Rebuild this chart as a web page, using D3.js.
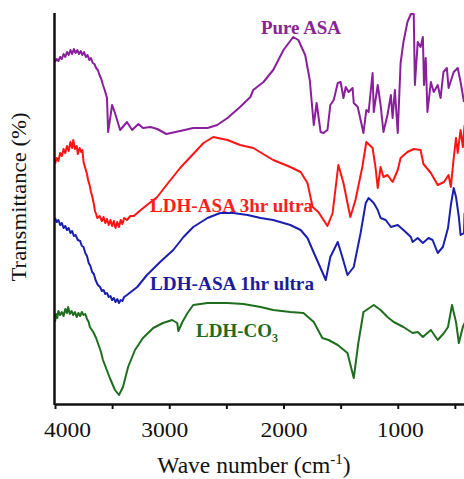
<!DOCTYPE html>
<html>
<head>
<meta charset="utf-8">
<script src="https://cdn.jsdelivr.net/npm/d3@7"></script>
<style>
  html, body { margin: 0; padding: 0; background: #fff; }
  svg { display: block; }
</style>
</head>
<body>
<div id="chart"></div>
<script>
// FTIR spectra: [wave number (cm-1), transmittance (a.u., stacked)]
const pureASA = [
  [4000, 342], [3985, 345], [3970, 343], [3955, 347], [3940, 345], [3925, 350], [3910, 347],
  [3895, 352], [3880, 349], [3865, 354], [3850, 350], [3835, 355], [3820, 351], [3805, 354],
  [3790, 350], [3775, 353], [3760, 349], [3745, 352], [3730, 347], [3715, 349], [3700, 344],
  [3685, 346], [3670, 341], [3655, 340], [3640, 336], [3625, 334], [3610, 329], [3595, 325],
  [3580, 319], [3565, 314], [3545, 306], [3535, 272], [3500, 299], [3475, 291], [3430, 274],
  [3370, 282], [3325, 274], [3270, 280], [3230, 276], [3165, 277], [3105, 275], [3025, 270],
  [2905, 273], [2790, 276], [2665, 276], [2580, 279], [2490, 286], [2380, 297], [2290, 307],
  [2265, 314], [2175, 322], [2090, 334], [2000, 354], [1915, 367], [1870, 364], [1810, 349],
  [1770, 324], [1735, 279], [1710, 301], [1675, 272], [1650, 271], [1615, 274], [1590, 299],
  [1560, 304], [1525, 321], [1500, 322], [1475, 306], [1455, 317], [1430, 312], [1395, 316],
  [1385, 301], [1350, 297], [1325, 284], [1300, 271], [1275, 294], [1255, 292], [1220, 331],
  [1210, 292], [1175, 319], [1150, 299], [1125, 272], [1090, 289], [1060, 309], [1045, 286],
  [1025, 314], [1000, 271], [975, 341], [950, 362], [915, 382], [885, 390], [860, 390],
  [850, 319], [825, 362], [800, 357], [780, 367], [770, 319], [755, 346], [740, 292],
  [710, 322], [685, 312], [650, 319], [625, 306], [600, 332], [570, 336], [555, 316],
  [510, 332], [475, 336], [450, 322], [420, 302]
];

const ldhAsa3hr = [
  [4000, 240], [3985, 246], [3970, 243], [3955, 251], [3940, 248], [3925, 255], [3910, 251],
  [3895, 258], [3880, 253], [3865, 262], [3850, 256], [3840, 264], [3825, 255], [3810, 258],
  [3800, 250], [3785, 256], [3770, 252], [3760, 254], [3750, 242], [3735, 236], [3720, 230],
  [3710, 224], [3695, 218], [3685, 212], [3675, 208], [3660, 200], [3650, 193], [3640, 190],
  [3630, 186], [3610, 188], [3590, 183], [3575, 187], [3560, 181], [3545, 185], [3530, 179],
  [3515, 184], [3500, 178], [3485, 183], [3470, 176], [3455, 182], [3440, 177], [3425, 184],
  [3410, 180], [3395, 186], [3370, 184], [3340, 188], [3310, 188], [3270, 192],
  [3195, 199], [3105, 207], [3010, 221], [2905, 236], [2815, 247], [2700, 261], [2615, 267],
  [2490, 264], [2380, 259], [2265, 256], [2090, 244], [1940, 237], [1850, 232], [1790, 221],
  [1745, 197], [1695, 192], [1615, 178], [1570, 191], [1520, 239], [1475, 221], [1415, 187],
  [1370, 204], [1310, 237], [1275, 262], [1220, 256], [1195, 237], [1175, 216], [1150, 237],
  [1125, 227], [1090, 229], [1045, 222], [1000, 234], [975, 246], [915, 252], [860, 255],
  [800, 254], [775, 240], [710, 231], [650, 219], [595, 222], [555, 229], [535, 217],
  [510, 246], [490, 266], [475, 251], [450, 274], [430, 257], [415, 279]
];

const ldhAsa1hr = [
  [4000, 186], [3985, 182], [3970, 184], [3955, 179], [3940, 181], [3925, 176], [3910, 178],
  [3895, 174], [3880, 176], [3865, 171], [3850, 173], [3835, 168], [3820, 169], [3800, 164],
  [3780, 163], [3765, 158], [3750, 157], [3735, 151], [3720, 148], [3705, 141], [3690, 138],
  [3675, 132], [3660, 130], [3645, 124], [3625, 119], [3605, 117], [3590, 113], [3575, 114],
  [3560, 110], [3545, 111], [3530, 107], [3515, 108], [3500, 104], [3485, 106], [3470, 102],
  [3455, 105], [3440, 101], [3425, 104], [3410, 103], [3395, 107], [3370, 109], [3280, 117],
  [3195, 129], [3080, 142], [2965, 154], [2875, 167], [2790, 177], [2665, 186], [2555, 191],
  [2440, 191], [2315, 189], [2200, 186], [2090, 184], [1940, 179], [1850, 174], [1790, 166],
  [1745, 154], [1695, 141], [1630, 124], [1590, 147], [1525, 162], [1485, 147], [1440, 129],
  [1385, 137], [1325, 171], [1280, 201], [1255, 206], [1210, 201], [1175, 194], [1150, 186],
  [1105, 184], [1060, 177], [1000, 179], [950, 174], [885, 167], [870, 162], [825, 166],
  [780, 161], [730, 166], [695, 164], [650, 151], [605, 157], [560, 176], [535, 199],
  [510, 216], [490, 207], [465, 187], [450, 169], [420, 171], [415, 191]
];

const ldhCO3 = [
  [4000, 82], [3990, 90], [3980, 86], [3970, 93], [3955, 89], [3940, 92], [3925, 88],
  [3910, 95], [3895, 91], [3885, 97], [3870, 90], [3855, 93], [3840, 89], [3825, 92],
  [3810, 87], [3795, 91], [3780, 88], [3765, 92], [3750, 89], [3735, 90], [3720, 85],
  [3705, 82], [3695, 77], [3665, 72], [3640, 66], [3625, 61], [3600, 53], [3580, 44], [3520, 26], [3475, 14],
  [3440, 9], [3405, 17], [3360, 37], [3300, 54], [3230, 66], [3140, 76], [3055, 81],
  [2975, 84], [2930, 81], [2920, 73], [2885, 82], [2840, 91], [2790, 99], [2665, 101],
  [2490, 101], [2350, 100], [2200, 97], [2090, 94], [1940, 92], [1825, 91], [1735, 82],
  [1660, 66], [1605, 64], [1525, 59], [1440, 51], [1385, 26], [1345, 61], [1300, 92],
  [1210, 99], [1150, 94], [1090, 87], [1035, 82], [950, 77], [870, 71], [825, 72],
  [780, 67], [710, 74], [650, 64], [595, 71], [560, 77], [525, 99], [490, 82],
  [465, 61], [430, 77], [415, 81]
];

const seriesNames = ["Pure ASA", "LDH-ASA 3hr ultra", "LDH-ASA 1hr ultra", "LDH-CO3"];
const seriesColors = ["#8a1f9c", "#ff1414", "#1a1fb0", "#1f6e1f"];
const labelColors = ["#8a2396", "#ff1e1e", "#1c1c9c", "#1e6a1e"];
const tickValues = [4000, 3500, 3000, 2500, 2000, 1500, 1000, 500];

const width = 464, height = 479;
const margin = { top: 13, left: 55, bottom: 75 };
const serif = "'Liberation Serif', 'Times New Roman', serif";

const svg = d3.select("#chart").append("svg")
  .attr("width", width)
  .attr("height", height);

const x = d3.scaleLinear().domain([4000, 420]).range([margin.left, width]);
const y = d3.scaleLinear().domain([0, 391]).range([height - margin.bottom, margin.top]);
const y0 = y(0);

svg.append("clipPath").attr("id", "plot-clip")
  .append("rect")
  .attr("x", margin.left).attr("y", 0)
  .attr("width", width - margin.left).attr("height", y0);

const line = d3.line().x(d => x(d[0])).y(d => y(d[1]));

const plot = svg.append("g").attr("clip-path", "url(#plot-clip)");
[pureASA, ldhAsa3hr, ldhAsa1hr, ldhCO3].forEach((data, i) => {
  plot.append("path")
    .datum(data)
    .attr("d", line)
    .attr("fill", "none")
    .attr("stroke", seriesColors[i])
    .attr("stroke-width", 2)
    .attr("stroke-linejoin", "round");
});

// x axis
const xAxis = svg.append("g")
  .attr("transform", `translate(0,${y0})`)
  .call(d3.axisBottom(x).tickValues(tickValues).tickSize(5).tickSizeOuter(0)
    .tickFormat(d => (d % 1000 === 0 ? d : "")));
xAxis.select(".domain").attr("stroke", "#111").attr("stroke-width", 2.5);
xAxis.selectAll(".tick line").attr("stroke", "#111").attr("stroke-width", 2);
xAxis.selectAll(".tick text")
  .attr("y", 33)
  .attr("dy", 0)
  .attr("fill", "#111")
  .style("font-family", serif)
  .style("font-size", "21px")
  .attr("textLength", 47)
  .attr("lengthAdjust", "spacingAndGlyphs")
  .attr("dx", d => (d === 4000 ? 12 : d === 3000 ? -5 : d === 1000 ? 2 : 0));

// y axis line only
svg.append("line")
  .attr("x1", margin.left - 0.5).attr("x2", margin.left - 0.5)
  .attr("y1", margin.top).attr("y2", y0 + 1)
  .attr("stroke", "#111").attr("stroke-width", 2.5);

// axis titles
const xTitle = svg.append("text")
  .attr("x", 254).attr("y", 473)
  .attr("text-anchor", "middle")
  .attr("fill", "#111")
  .style("font-family", serif)
  .style("font-size", "23.5px");
xTitle.append("tspan").text("Wave number (cm");
xTitle.append("tspan").text("-1").attr("dy", -9).style("font-size", "15px");
xTitle.append("tspan").text(")").attr("dy", 9);

svg.append("text")
  .attr("transform", "translate(26,197) rotate(-90)")
  .attr("text-anchor", "middle")
  .attr("fill", "#111")
  .style("font-family", serif)
  .style("font-size", "20px")
  .attr("textLength", 169)
  .attr("lengthAdjust", "spacingAndGlyphs")
  .text("Transmittance (%)");

// series labels
const labelPos = [[261, 34, 80], [150, 212, 163], [150, 290, 164], [196, 337, 0]];
labelPos.forEach((p, i) => {
  const t = svg.append("text")
    .attr("x", p[0]).attr("y", p[1])
    .attr("fill", labelColors[i])
    .style("font-family", serif)
    .style("font-weight", "bold")
    .style("font-size", "19px");
  if (i === 3) {
    t.append("tspan").text("LDH-CO");
    t.append("tspan").text("3").attr("dy", 5).style("font-size", "12px");
  } else {
    t.text(seriesNames[i]).attr("textLength", p[2]).attr("lengthAdjust", "spacingAndGlyphs");
  }
});
</script>
</body>
</html>
